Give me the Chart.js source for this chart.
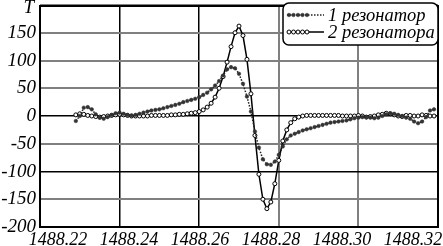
<!DOCTYPE html>
<html>
<head>
<meta charset="utf-8">
<script src="https://cdn.jsdelivr.net/npm/chart.js@4/dist/chart.umd.min.js"></script>
<style>
  html, body { margin: 0; padding: 0; background: #fff; }
  #wrap { width: 443px; height: 246px; position: relative; }
</style>
</head>
<body>
<div id="wrap"><canvas id="chart"></canvas></div>
<script>
// ── DADOS ────────────────────────────────────────────────────────────────────

// grade de frequência: 1488.229 … 1488.319, passo 0.001
const X_START = 1488.229
const X_STEP = 0.001

const seriesLabels = ['1 резонатор', '2 резонатора']

// 1 резонатор (pontos cheios, linha pontilhada)
const res1 = [
  -9, 0, 15, 16, 12, 3, -3, -5, -2, 2,
  5, 6, 4, 2, 1, 2, 4, 6, 8, 10,
  11, 12, 14, 16, 18, 20, 22, 25, 27, 29,
  31, 34, 38, 42, 48, 55, 63, 73, 84, 88,
  86, 76, 58, 35, 8, -28, -57, -78, -87, -88,
  -82, -70, -55, -42, -35, -32, -29, -26, -24, -22,
  -20, -18, -16, -14, -12, -11, -10, -9, -8, -6,
  -4, -3, -2, -2, -3, -4, -3, 0, 3, 5,
  4, 2, 0, -3, -5, -10, -13, -10, -2, 10,
  12
]

// 2 резонатора (círculos vazados, linha contínua)
const res2 = [
  2, 4, 3, 1, 0, -1, -2, -1, 0, 1,
  2, 3, 2, 1, 0, 0, 0, 0, 0, 1,
  1, 1, 1, 1, 2, 2, 3, 3, 4, 5,
  6, 8, 11, 16, 23, 34, 50, 71, 97, 125,
  150, 162, 145, 102, 40, -35, -105, -150, -167, -155,
  -122, -80, -45, -25, -12, -5, -2, 0, 1, 1,
  1, 1, 1, 1, 1, 1, 1, 0, 0, 0,
  0, 1, 0, -2, -1, 0, 2, 3, 5, 4,
  2, 0, -1, 1, 1, 0, 0, 2, 1, 0,
  0
]

const xs = res1.map((_, i) => +(X_START + i * X_STEP).toFixed(3))

const X_MIN = 1488.22, X_MAX = 1488.32, X_TICK = 0.02
const Y_MIN = -200, Y_MAX = 200, Y_TICK = 50
const yAxisLabel = 'T'

// linhas de grade pretas (as demais são cinza)
const darkYLines = [0, -100]
const darkXLines = [1488.24, 1488.26]

// ── HELPERS ──────────────────────────────────────────────────────────────────

const FAMILY = '"Liberation Serif", "DejaVu Serif", serif'
const FONT = { family: FAMILY, size: 19, style: 'italic' }
const GRAY = '#808080'

function toPoints(ys) {
  return ys.map((y, i) => ({ x: xs[i], y }))
}

function isDark(list, v) {
  return list.some(d => Math.abs(d - v) < 1e-6)
}

// moldura, rótulos do eixo x, rótulo "T" e legenda com caixa arredondada
const framePlugin = {
  id: 'frame',
  afterDraw(chart) {
    const { ctx, chartArea: a } = chart
    ctx.save()
    ctx.strokeStyle = '#000'
    ctx.lineWidth = 2
    ctx.strokeRect(a.left, a.top + 1, a.right - a.left, a.bottom - a.top - 1)

    ctx.font = `italic 19px ${FAMILY}`
    ctx.fillStyle = '#000'
    ctx.textBaseline = 'alphabetic'
    ctx.textAlign = 'right'
    ctx.fillText(yAxisLabel, 34, 13)

    // rótulos do eixo x, espalhados para caberem dentro da imagem
    const sx = chart.scales.x
    const n = sx.ticks.length
    ctx.font = `italic 18px ${FAMILY}`
    ctx.textAlign = 'center'
    sx.ticks.forEach((t, i) => {
      const shift = 18 - 43 * i / (n - 1)
      ctx.fillText(t.value.toFixed(2), sx.getPixelForValue(t.value) + shift, 245)
    })

    // legenda
    const bx = 283, by = 3, bw = 155, bh = 42, r = 6
    ctx.beginPath()
    ctx.roundRect(bx, by, bw, bh, r)
    ctx.fillStyle = '#fff'
    ctx.fill()
    ctx.lineWidth = 1.5
    ctx.stroke()

    ctx.font = `italic 18.5px ${FAMILY}`
    chart.data.datasets.forEach((ds, i) => {
      const yy = by + 12 + i * 17
      ctx.save()
      ctx.strokeStyle = ds.borderColor
      ctx.lineWidth = ds.borderWidth
      ctx.setLineDash(ds.borderDash || [])
      ctx.beginPath()
      ctx.moveTo(bx + 4, yy)
      ctx.lineTo(bx + 41, yy)
      ctx.stroke()
      ctx.setLineDash([])
      for (let k = 0; k < 5; k++) {
        ctx.beginPath()
        ctx.arc(bx + 6 + k * 4.5, yy, ds.pointRadius, 0, Math.PI * 2)
        ctx.fillStyle = ds.pointBackgroundColor
        ctx.fill()
        ctx.lineWidth = ds.pointBorderWidth
        ctx.strokeStyle = ds.pointBorderColor
        ctx.stroke()
      }
      ctx.restore()
      ctx.fillStyle = '#000'
      ctx.textAlign = 'left'
      ctx.textBaseline = 'middle'
      ctx.fillText(ds.label, bx + 45, yy + 1)
    })
    ctx.restore()
  }
}

// ── GRÁFICO ──────────────────────────────────────────────────────────────────

new Chart(document.getElementById('chart'), {
  type: 'line',
  data: {
    datasets: [
      {
        label: seriesLabels[0],
        data: toPoints(res1),
        borderColor: '#222',
        borderWidth: 1.5,
        borderDash: [1.5, 1.5],
        pointRadius: 1.8,
        pointBackgroundColor: '#333',
        pointBorderColor: '#333',
        pointBorderWidth: 0.5,
        tension: 0
      },
      {
        label: seriesLabels[1],
        data: toPoints(res2),
        borderColor: '#000',
        borderWidth: 1.5,
        pointRadius: 2,
        pointBackgroundColor: '#fff',
        pointBorderColor: '#000',
        pointBorderWidth: 1,
        tension: 0
      }
    ]
  },
  options: {
    responsive: true,
    maintainAspectRatio: false,
    animation: false,
    layout: { padding: { top: 0, right: 3, bottom: 0, left: 0 } },
    plugins: { legend: { display: false }, tooltip: { enabled: false } },
    scales: {
      x: {
        type: 'linear',
        min: X_MIN,
        max: X_MAX,
        afterFit(s) { s.height = 19; s.paddingLeft = 0; s.paddingRight = 0 },
        afterBuildTicks(s) {
          const t = []
          for (let v = X_MIN; v <= X_MAX + 1e-9; v += X_TICK) t.push({ value: +v.toFixed(2) })
          s.ticks = t
        },
        border: { display: false },
        grid: {
          drawTicks: false,
          color: c => isDark(darkXLines, c.tick.value) ? '#000' : GRAY,
          lineWidth: c => isDark(darkXLines, c.tick.value) ? 1.5 : 2
        },
        ticks: { display: false }
      },
      y: {
        min: Y_MIN,
        max: Y_MAX,
        afterFit(s) { s.width = 40; s.paddingTop = 0; s.paddingBottom = 0 },
        border: { display: false },
        grid: {
          drawTicks: false,
          color: c => isDark(darkYLines, c.tick.value) ? '#000' : GRAY,
          lineWidth: c => isDark(darkYLines, c.tick.value) ? 1.5 : 2
        },
        ticks: {
          stepSize: Y_TICK,
          padding: 4,
          color: '#000',
          font: FONT,
          callback: v => v === Y_MAX ? '' : v
        }
      }
    }
  },
  plugins: [framePlugin]
})
</script>
</body>
</html>
